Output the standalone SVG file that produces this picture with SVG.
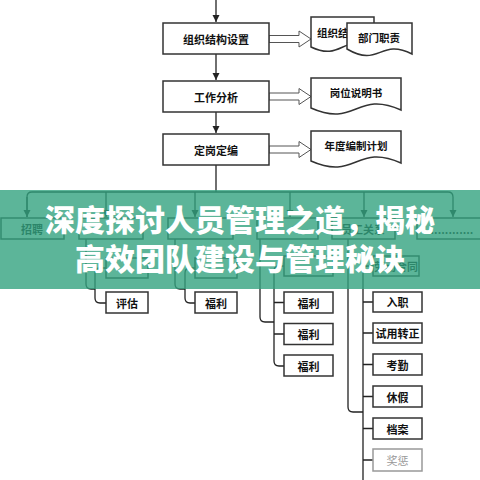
<svg xmlns="http://www.w3.org/2000/svg" width="480" height="480" viewBox="0 0 480 480">
<style>
.box{fill:#fff;stroke:#333;stroke-width:1.5}
.doc{fill:#fff;stroke:#333;stroke-width:1.5}
.t{font-family:"Noto Sans CJK SC","Noto Sans",sans-serif;font-size:11px;font-weight:bold;fill:#111;text-anchor:middle;dominant-baseline:central}
.d{font-family:"Noto Sans CJK SC","Noto Sans",sans-serif;font-size:10.5px;font-weight:bold;fill:#111;text-anchor:middle;dominant-baseline:central}
.c{fill:none;stroke:#222;stroke-width:1.3}
.ha{fill:#fff;stroke:#555;stroke-width:1}
.title{font-family:"Noto Sans CJK SC","Noto Sans",sans-serif;font-size:30px;font-weight:900;fill:#fff;text-anchor:middle}
</style>
<defs>
<marker id="ah" markerUnits="userSpaceOnUse" markerWidth="8" markerHeight="8" refX="7" refY="4" orient="auto">
<path d="M0,0.5 L7,4 L0,7.5 Z" fill="#222"/>
</marker>
</defs>
<rect width="480" height="480" fill="#fff"/>
<g id="connectors">
<path class="c" d="M216,0 V22" marker-end="url(#ah)"/>
<path class="c" d="M216,54 V80" marker-end="url(#ah)"/>
<path class="c" d="M216,112 V133" marker-end="url(#ah)"/>
<path class="c" d="M216,165 V192"/>
<path class="c" d="M27,217 V197 Q27,192 32,192 H448 Q453,192 453,197 V217" marker-end="url(#ah)"/>
<path class="c" d="M27,197 V217" marker-end="url(#ah)"/>
<path class="c" d="M106,192 V217" marker-end="url(#ah)"/>
<path class="c" d="M195,192 V217" marker-end="url(#ah)"/>
<path class="c" d="M290,192 V217" marker-end="url(#ah)"/>
<path class="c" d="M364,192 V217" marker-end="url(#ah)"/>
<polygon class="ha" points="269,35.5 299,35.5 299,31 311,39 299,47 299,42.5 269,42.5"/>
<polygon class="ha" points="269,93 299,93 299,88.5 311,96.5 299,104.5 299,100 269,100"/>
<polygon class="ha" points="269,146 299,146 299,141.5 311,149.5 299,157.5 299,153 269,153"/>
<path class="c" d="M86,239 V284 Q86,289 91,289 H95"/>
<path class="c" d="M106,268 H100 Q95,268 95,273 V298 Q95,303 100,303 H106"/>
<path class="c" d="M175,239 V284 Q175,289 180,289 H185"/>
<path class="c" d="M195,268 H190 Q185,268 185,273 V298 Q185,303 190,303 H195"/>
<path class="c" d="M260,239 V317 Q260,322 265,322 H274"/>
<path class="c" d="M284,266 H279 Q274,266 274,271 V361 Q274,366 279,366 H284 M274,302.5 H284 M274,334 H284"/>
<path class="c" d="M348,239 V407 Q348,412 353,412 H363"/>
<path class="c" d="M373,266 H368 Q363,266 363,271 V480 M363,302 H373 M363,333 H373 M363,364.5 H373 M363,396.5 H373 M363,428.5 H373 M363,460 H373"/>
</g>
<g id="n-org"><rect class="box" x="163" y="23" width="106" height="31"/><text class="t" x="216" y="39">组织结构设置</text></g>
<g id="n-job"><rect class="box" x="163" y="81" width="106" height="31"/><text class="t" x="216" y="97">工作分析</text></g>
<g id="n-quota"><rect class="box" x="163" y="134" width="106" height="31"/><text class="t" x="216" y="150">定岗定编</text></g>
<g id="d-chart"><path class="doc" d="M311,17 H374 V48 C342.5,32 342.5,62 311,47 Z"/><text class="d" x="317" y="32" style="text-anchor:start">组织结构图</text></g>
<g id="d-dept"><path class="doc" d="M347,23 H412 V54 C379.5,38 379.5,68 347,49 Z"/><text class="d" x="379" y="37">部门职责</text></g>
<g id="d-post"><path class="doc" d="M311,78 H401 V110 C356,90 356,128 311,108 Z"/><text class="d" x="356" y="92">岗位说明书</text></g>
<g id="d-plan"><path class="doc" d="M311,131 H401 V163 C356,143 356,181 311,161 Z"/><text class="d" x="356" y="145">年度编制计划</text></g>
<g id="n-c1"><rect class="box" x="1" y="218" width="63" height="21"/><text class="t" x="32" y="229">招聘</text></g>
<g id="n-c2"><rect class="box" x="79" y="218" width="64" height="21"/></g>
<g id="n-c3"><rect class="box" x="168" y="218" width="65" height="21"/></g>
<g id="n-c4"><rect class="box" x="257" y="218" width="61" height="21"/></g>
<g id="n-c5"><rect class="box" x="332" y="218" width="63" height="21"/><text class="t" x="363" y="229">员工关系</text></g>
<g id="n-c6"><rect class="box" x="417" y="218" width="70" height="21"/><text class="t" x="452" y="229">............</text></g>
<g id="n-c2a"><rect class="box" x="106" y="258" width="42" height="20"/></g>
<g id="n-c2b"><rect class="box" x="106" y="292" width="42" height="21"/><text class="t" x="127" y="302.5">评估</text></g>
<g id="n-c3a"><rect class="box" x="195" y="258" width="42" height="20"/></g>
<g id="n-c3b"><rect class="box" x="195" y="292" width="42" height="21"/><text class="t" x="216" y="302.5">福利</text></g>
<g id="n-c4a"><rect class="box" x="284" y="256" width="49" height="20"/></g>
<g id="n-c4b"><rect class="box" x="284" y="292" width="49" height="21"/><text class="t" x="308.5" y="302.5">福利</text></g>
<g id="n-c4c"><rect class="box" x="284" y="323.5" width="49" height="21"/><text class="t" x="308.5" y="334">福利</text></g>
<g id="n-c4d"><rect class="box" x="284" y="355" width="49" height="21"/><text class="t" x="308.5" y="366">福利</text></g>
<g id="n-c5a"><rect class="box" x="373" y="256" width="46" height="20"/><text class="t" x="396" y="266">劳动合同</text></g>
<g id="n-c5b"><rect class="box" x="373" y="292" width="49" height="20"/><text class="t" x="397.5" y="302">入职</text></g>
<g id="n-c5c"><rect class="box" x="373" y="323" width="49" height="20"/><text class="t" x="397.5" y="333">试用转正</text></g>
<g id="n-c5d"><rect class="box" x="373" y="354" width="49" height="21"/><text class="t" x="397.5" y="364.5">考勤</text></g>
<g id="n-c5e"><rect class="box" x="373" y="386" width="49" height="21"/><text class="t" x="397.5" y="396.5">休假</text></g>
<g id="n-c5f"><rect class="box" x="373" y="418" width="49" height="21"/><text class="t" x="397.5" y="428.5">档案</text></g>
<g id="n-c5g"><rect class="box" x="373" y="449" width="49" height="22" style="stroke:#999"/><text class="t" x="397.5" y="460" style="fill:#999;font-weight:normal">奖惩</text></g>
<g id="banner">
<rect x="0" y="190" width="480" height="99" fill="#33a280" fill-opacity="0.8"/>
<text class="title" x="240" y="231">深度探讨人员管理之道，揭秘</text>
<text class="title" x="240" y="270">高效团队建设与管理秘诀</text>
</g>
</svg>
